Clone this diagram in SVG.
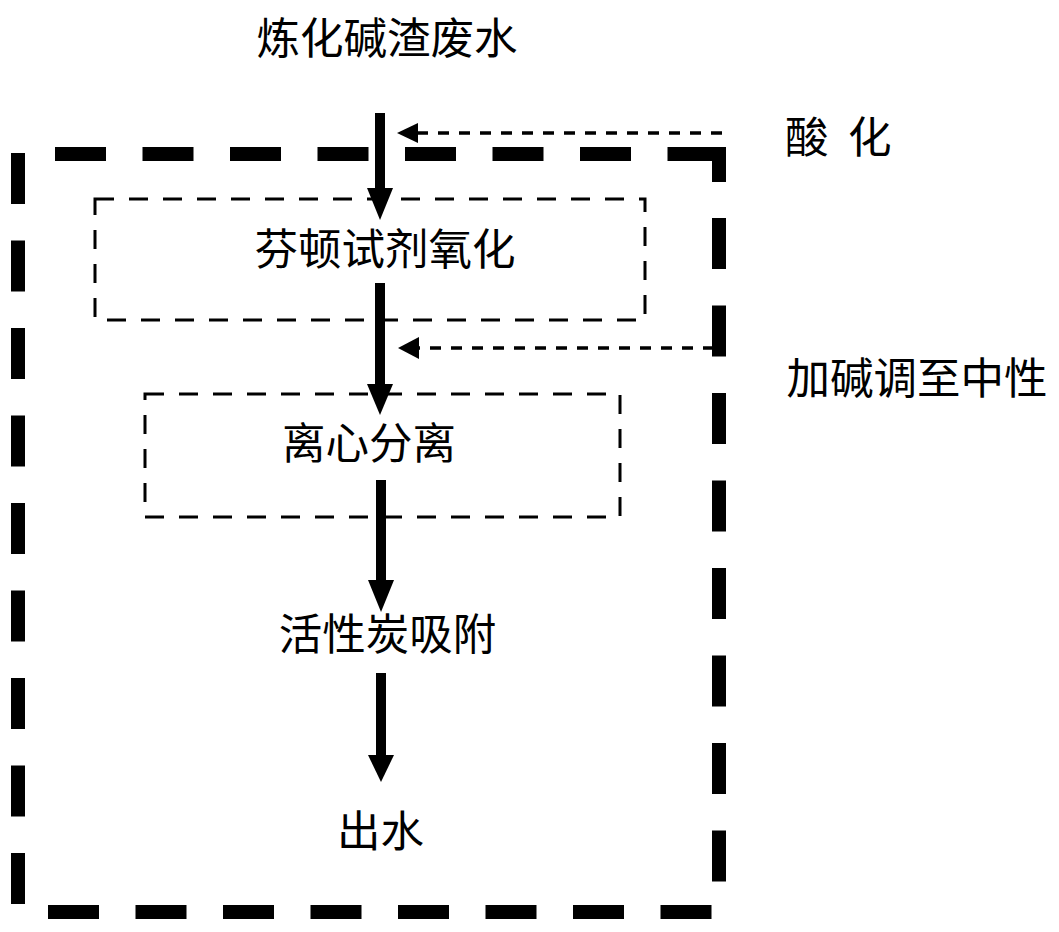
<svg xmlns="http://www.w3.org/2000/svg" width="1059" height="932" viewBox="0 0 1059 932">
<defs>
<style>
.lbl{font-family:"Noto Sans CJK SC","Noto Sans",sans-serif;font-size:43.5px;fill:#000;text-anchor:middle}
.outer{fill:none;stroke:#000;stroke-width:14;stroke-dasharray:51 36.5;stroke-linejoin:round}
.box{fill:none;stroke:#000;stroke-width:3;stroke-dasharray:19 15}
.flow{stroke:#000;stroke-width:10;fill:none}
.dot{stroke:#000;stroke-width:3.5;stroke-dasharray:11 10;fill:none}
.head{fill:#000}
</style>
</defs>
<rect width="1059" height="932" fill="#fff"/>
<g id="outer-box">
<line class="outer" x1="55" y1="154" x2="668" y2="154"/>
<path d="M668 154 H719 V182" fill="none" stroke="#000" stroke-width="14"/>
<line class="outer" x1="719" y1="218" x2="719" y2="884"/>
<line class="outer" x1="18" y1="153" x2="18" y2="906"/>
<line class="outer" x1="48" y1="912" x2="712" y2="912"/>
</g>
<g id="n-input"><text class="lbl" x="387" y="53.5">炼化碱渣废水</text></g>
<g id="n-acid"><text class="lbl" x="785" y="152.5" style="text-anchor:start">酸 <tspan x="848">化</tspan></text></g>
<g id="n-fenton">
<rect class="box" x="95" y="199" width="550" height="121"/>
<text class="lbl" x="385" y="264.5">芬顿试剂氧化</text>
</g>
<g id="n-alkali"><text class="lbl" x="917" y="393.5">加碱调至中性</text></g>
<g id="n-centrifuge">
<rect class="box" x="145" y="394" width="475" height="123"/>
<text class="lbl" x="369" y="458.5">离心分离</text>
</g>
<g id="n-carbon"><text class="lbl" x="387.5" y="649.5">活性炭吸附</text></g>
<g id="n-output"><text class="lbl" x="380.5" y="847">出水</text></g>
<g id="connectors">
<line class="flow" x1="380" y1="113" x2="380" y2="192"/>
<polygon class="head" points="367,188 393,188 380,220"/>
<line class="flow" x1="380" y1="283" x2="380" y2="387"/>
<polygon class="head" points="367,384 393,384 380,415"/>
<line class="flow" x1="381" y1="480" x2="381" y2="584"/>
<polygon class="head" points="368,580 394,580 381,612"/>
<line class="flow" x1="381" y1="673" x2="381" y2="760"/>
<polygon class="head" points="368,755 394,755 381,782"/>
<line class="dot" x1="722" y1="133" x2="414" y2="133"/>
<polygon class="head" points="397,133 418,123 418,143"/>
<line class="dot" x1="714" y1="348" x2="414" y2="348"/>
<polygon class="head" points="398,348 419,337 419,359"/>
</g>
</svg>
